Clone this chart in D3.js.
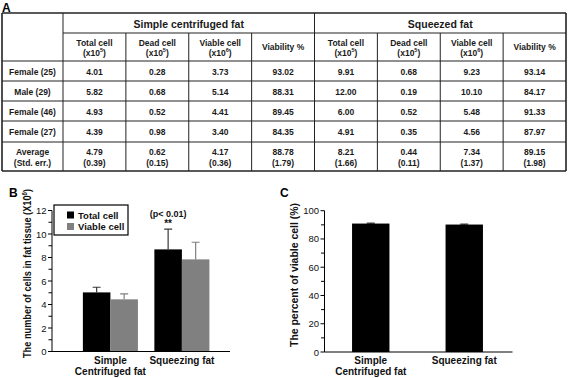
<!DOCTYPE html>
<html>
<head>
<meta charset="utf-8">
<script src="https://cdn.jsdelivr.net/npm/d3@7"></script>
<style>
  body { margin: 0; background: #fff; }
  svg { display: block; font-family: "Liberation Sans", Arial, sans-serif; }
</style>
</head>
<body>
<div id="fig"></div>
<script>
const width = 568;
const height = 378;

// ---- table data (panel A) ----
const groupHeads = ["Simple centrifuged fat", "Squeezed fat"];
const colHeads = [
    { l1: "Total cell", l2: "(x10", sup: "5" },
    { l1: "Dead cell", l2: "(x10", sup: "5" },
    { l1: "Viable cell", l2: "(x10", sup: "6" },
    { l1: "Viability %" }
];
const donors = ["Female (25)", "Male (29)", "Female (46)", "Female (27)"];
const simpleRows = [
    ["4.01", "0.28", "3.73", "93.02"],
    ["5.82", "0.68", "5.14", "88.31"],
    ["4.93", "0.52", "4.41", "89.45"],
    ["4.39", "0.98", "3.40", "84.35"]
];
const squeezedRows = [
    ["9.91", "0.68", "9.23", "93.14"],
    ["12.00", "0.19", "10.10", "84.17"],
    ["6.00", "0.52", "5.48", "91.33"],
    ["4.91", "0.35", "4.56", "87.97"]
];
const avgLabel = ["Average", "(Std. err.)"];
const simpleAvg = ["4.79", "0.62", "4.17", "88.78"];
const simpleSE = ["(0.39)", "(0.15)", "(0.36)", "(1.79)"];
const squeezedAvg = ["8.21", "0.44", "7.34", "89.15"];
const squeezedSE = ["(1.66)", "(0.11)", "(1.37)", "(1.98)"];

// ---- bar chart data (panels B, C) ----
const groups = [["Simple", "Centrifuged fat"], ["Squeezing fat"]];
const seriesB = ["Total cell", "Viable cell"];
const totalCell = [5.03, 8.69];
const totalErr = [0.44, 1.73];
const viableCell = [4.44, 7.84];
const viableErr = [0.46, 1.46];
const viability = [90.9, 90.2];
const viabilityErr = [0.3, 0.3];

const colorB = d3.scaleOrdinal().domain(seriesB).range(["#000", "#808080"]);
const errColor = d3.scaleOrdinal().domain(seriesB).range(["#3a3a3a", "#808080"]);

let svg = d3.select("#fig")
    .append("svg")
    .attr("width", width)
    .attr("height", height);

// panel letters
svg.append("text").attr("x", 2).attr("y", 11.5).text("A")
    .attr("font-size", 12).attr("font-weight", "bold");
svg.append("text").attr("x", 9).attr("y", 197).text("B")
    .attr("font-size", 12).attr("font-weight", "bold");
svg.append("text").attr("x", 280).attr("y", 197).text("C")
    .attr("font-size", 12).attr("font-weight", "bold");

// ================= TABLE =================
const tLeft = 2, tRight = 566, firstCol = 63;
const rowEdges = [13, 33, 61, 81, 101, 121, 142, 171];

let xCol = d3.scaleBand()
    .domain(d3.range(8))
    .range([firstCol, tRight]);

let table = svg.append("g").attr("class", "table");

// grid lines
const lineCol = "#222";
// horizontal
rowEdges.forEach((y, i) => {
    let x0 = (i === 1) ? firstCol : tLeft;
    table.append("line")
        .attr("x1", x0).attr("x2", tRight)
        .attr("y1", y).attr("y2", y)
        .attr("stroke", lineCol)
        .attr("stroke-width", (i === 0 || i === rowEdges.length - 1) ? 1.6 : 1);
});
// vertical
let vx = [tLeft, firstCol].concat(d3.range(1, 8).map(i => xCol(i))).concat([tRight]);
vx.forEach((x, i) => {
    let groupLine = (i === 0 || i === 1 || i === 5 || i === vx.length - 1);
    table.append("line")
        .attr("x1", x).attr("x2", x)
        .attr("y1", groupLine ? rowEdges[0] : rowEdges[1])
        .attr("y2", rowEdges[rowEdges.length - 1])
        .attr("stroke", lineCol)
        .attr("stroke-width", (i === 0 || i === vx.length - 1) ? 1.6 : 1);
});

const cellFont = 8.5;
function cellText(x, y, txt, size, weight) {
    return table.append("text")
        .attr("x", x).attr("y", y)
        .attr("text-anchor", "middle")
        .attr("dominant-baseline", "central")
        .attr("font-size", size || cellFont)
        .attr("font-weight", weight || "bold")
        .attr("fill", "#1a1a1a")
        .text(txt);
}

// group headings
groupHeads.forEach((g, gi) => {
    let x0 = xCol(gi * 4), x1 = xCol(gi * 4 + 3) + xCol.bandwidth();
    cellText((x0 + x1) / 2, (rowEdges[0] + rowEdges[1]) / 2 + 0.5, g, 10.5);
});

// column headings
d3.range(8).forEach(c => {
    let h = colHeads[c % 4];
    let cx = xCol(c) + xCol.bandwidth() / 2;
    if (h.l2) {
        cellText(cx, 42.5, h.l1);
        let t = cellText(cx, 53, "");
        t.append("tspan").text(h.l2);
        t.append("tspan").attr("font-size", 5.5).attr("dy", -3).text(h.sup);
        t.append("tspan").attr("dy", 3).text(")");
    } else {
        cellText(cx, 47, h.l1);
    }
});

// data rows
donors.forEach((d, r) => {
    let cy = (rowEdges[r + 2] + rowEdges[r + 3]) / 2 + 0.5;
    cellText((tLeft + firstCol) / 2, cy, d);
    simpleRows[r].concat(squeezedRows[r]).forEach((v, c) => {
        cellText(xCol(c) + xCol.bandwidth() / 2, cy, v);
    });
});

// average rows
cellText((tLeft + firstCol) / 2, 151.5, avgLabel[0]);
cellText((tLeft + firstCol) / 2, 162.5, avgLabel[1]);
simpleAvg.concat(squeezedAvg).forEach((v, c) => {
    cellText(xCol(c) + xCol.bandwidth() / 2, 151.5, v);
});
simpleSE.concat(squeezedSE).forEach((v, c) => {
    cellText(xCol(c) + xCol.bandwidth() / 2, 162.5, v);
});

// ================= shared helpers =================
function yAxis(g, y, major, minor, xPos) {
    g.append("line")
        .attr("x1", xPos).attr("x2", xPos)
        .attr("y1", y.range()[0]).attr("y2", y.range()[1])
        .attr("stroke", "#000");
    g.selectAll(".minor").data(minor).join("line")
        .attr("x1", xPos - 3.5).attr("x2", xPos)
        .attr("y1", d => y(d)).attr("y2", d => y(d))
        .attr("stroke", "#000");
    g.selectAll(".major").data(major).join("line")
        .attr("x1", xPos - 4).attr("x2", xPos)
        .attr("y1", d => y(d)).attr("y2", d => y(d))
        .attr("stroke", "#000");
    g.selectAll(".lbl").data(major).join("text")
        .attr("x", xPos - 5.5)
        .attr("y", d => y(d))
        .attr("text-anchor", "end")
        .attr("dominant-baseline", "central")
        .attr("font-size", 9.5)
        .attr("fill", "#111")
        .text(d => d);
}

function xLabels(g, x, yBase) {
    groups.forEach((lines, i) => {
        let cx = x(i) + x.bandwidth() / 2;
        lines.forEach((l, j) => {
            g.append("text")
                .attr("x", cx).attr("y", yBase + j * 11)
                .attr("text-anchor", "middle")
                .attr("font-size", 10)
                .attr("font-weight", "bold")
                .attr("fill", "#111")
                .text(l);
        });
    });
}

// ================= PANEL B =================
let gB = svg.append("g");
let xB = d3.scaleBand().domain(d3.range(groups.length))
    .range([52, 230]).paddingInner(0.23).paddingOuter(0.36).align(0.6);
let xSub = d3.scaleBand().domain(seriesB).range([0, xB.bandwidth()]);
let yB = d3.scaleLinear().domain([0, 12]).range([351.5, 210.5]);

const barsB = [];
groups.forEach((g, i) => {
    barsB.push({ g: i, s: seriesB[0], v: totalCell[i], e: totalErr[i] });
    barsB.push({ g: i, s: seriesB[1], v: viableCell[i], e: viableErr[i] });
});

gB.selectAll(".bar").data(barsB).join("rect")
    .attr("x", d => xB(d.g) + xSub(d.s))
    .attr("y", d => yB(d.v))
    .attr("width", xSub.bandwidth())
    .attr("height", d => yB(0) - yB(d.v))
    .attr("fill", d => colorB(d.s));

gB.selectAll(".err").data(barsB).join("path")
    .attr("d", d => {
        let cx = xB(d.g) + xSub(d.s) + xSub.bandwidth() / 2;
        return `M${cx},${yB(d.v)}V${yB(d.v + d.e)}M${cx - 4},${yB(d.v + d.e)}H${cx + 4}`;
    })
    .attr("stroke", d => errColor(d.s))
    .attr("stroke-width", 1.2)
    .attr("fill", "none");

yAxis(gB, yB, d3.range(0, 13, 2), d3.range(1, 12, 2), 52);
gB.append("line").attr("x1", 52).attr("x2", 230)
    .attr("y1", yB(0)).attr("y2", yB(0)).attr("stroke", "#000").attr("stroke-width", 1.2);
xLabels(gB, xB, 364);

// y title B
let tB = gB.append("text")
    .attr("transform", `translate(30.5,${(189 + 358) / 2}) rotate(-90)`)
    .attr("text-anchor", "middle")
    .attr("font-size", 10.5)
    .attr("font-weight", "bold")
    .attr("fill", "#111")
    .attr("textLength", 169)
    .attr("lengthAdjust", "spacingAndGlyphs");
tB.append("tspan").text("The number of cells in fat tissue (X10");
tB.append("tspan").attr("font-size", 7).attr("dy", -4).text("6");
tB.append("tspan").attr("dy", 4).text(")");

// legend B
let leg = gB.append("g");
leg.append("rect").attr("x", 54).attr("y", 205).attr("width", 74).attr("height", 30)
    .attr("fill", "#fff").attr("stroke", "#000").attr("stroke-width", 1.2);
seriesB.forEach((s, i) => {
    leg.append("rect").attr("x", 67).attr("y", 211.5 + i * 11.5)
        .attr("width", 7).attr("height", 7).attr("fill", colorB(s));
    leg.append("text").attr("x", 78).attr("y", 215 + i * 11.5)
        .attr("dominant-baseline", "central")
        .attr("font-size", 9.5).attr("font-weight", "bold").attr("fill", "#111")
        .text(s);
});

// significance note
const sigNote = ["(p< 0.01)", "**"];
let sx = xB(1) + xSub(seriesB[0]) + xSub.bandwidth() / 2;
gB.append("text").attr("x", sx).attr("y", 217).attr("text-anchor", "middle")
    .attr("font-size", 9).attr("font-weight", "bold").attr("fill", "#111").text(sigNote[0]);
gB.append("text").attr("x", sx).attr("y", 227).attr("text-anchor", "middle")
    .attr("font-size", 10).attr("font-weight", "bold").attr("fill", "#111").text(sigNote[1]);

// ================= PANEL C =================
let gC = svg.append("g");
let xC = d3.scaleBand().domain(d3.range(groups.length))
    .range([324, 511]).paddingInner(0.6).paddingOuter(0.3);
let yC = d3.scaleLinear().domain([0, 100]).range([352, 210.7]);

gC.selectAll(".bar").data(viability).join("rect")
    .attr("x", (d, i) => xC(i))
    .attr("y", d => yC(d))
    .attr("width", xC.bandwidth())
    .attr("height", d => yC(0) - yC(d))
    .attr("fill", "#000");

gC.selectAll(".err").data(viability).join("path")
    .attr("d", (d, i) => {
        let cx = xC(i) + xC.bandwidth() / 2;
        return `M${cx},${yC(d)}V${yC(d + viabilityErr[i])}M${cx - 4},${yC(d + viabilityErr[i])}H${cx + 4}`;
    })
    .attr("stroke", "#000")
    .attr("fill", "none");

yAxis(gC, yC, d3.range(0, 101, 20), d3.range(10, 100, 20), 324.5);
gC.append("line").attr("x1", 324.5).attr("x2", 512.5)
    .attr("y1", yC(0)).attr("y2", yC(0)).attr("stroke", "#000").attr("stroke-width", 1.2);
xLabels(gC, xC, 363.5);

gC.append("text")
    .attr("transform", `translate(298,${(203 + 347) / 2}) rotate(-90)`)
    .attr("text-anchor", "middle")
    .attr("font-size", 10.5)
    .attr("font-weight", "bold")
    .attr("fill", "#111")
    .attr("textLength", 144)
    .attr("lengthAdjust", "spacingAndGlyphs")
    .text("The percent of viable cell (%)");
</script>
</body>
</html>
